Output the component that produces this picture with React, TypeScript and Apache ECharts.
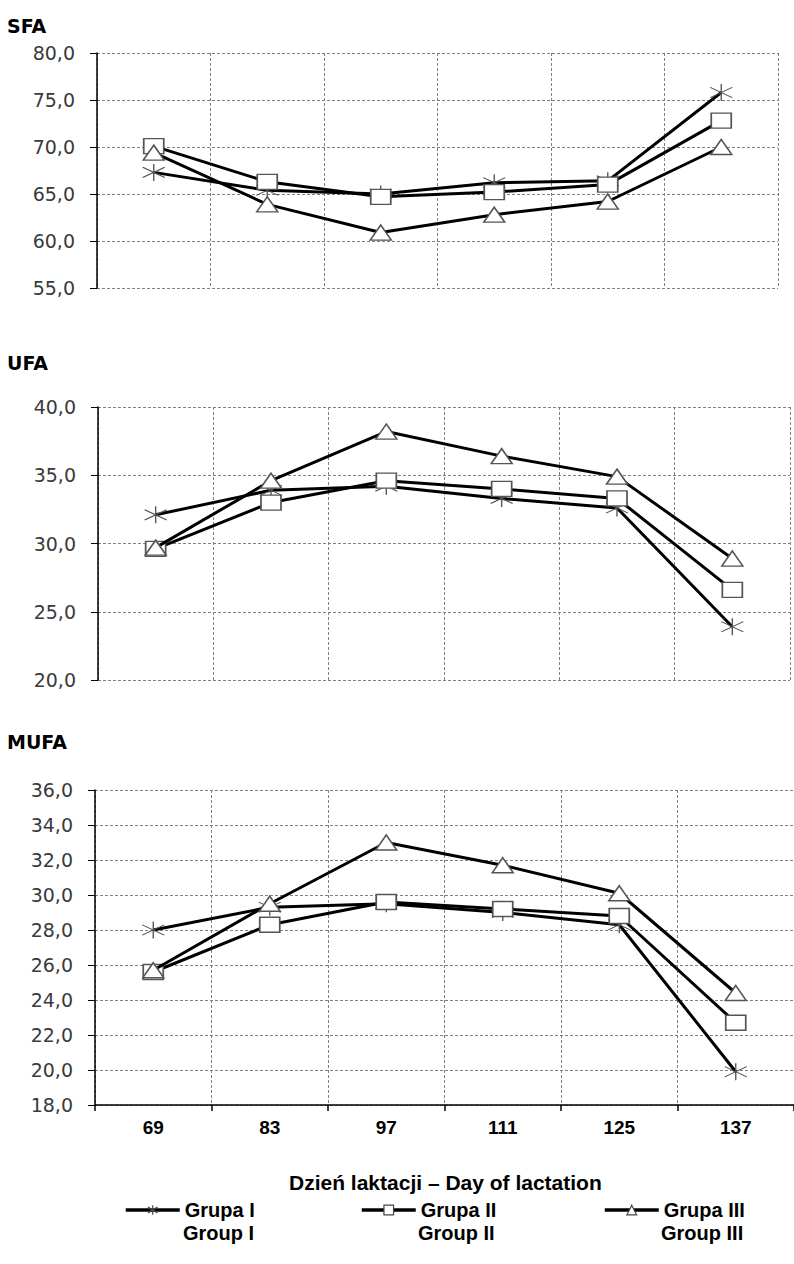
import React, { useEffect, useRef } from "react";
import * as echarts from "echarts";

const categories = ["69", "83", "97", "111", "125", "137"];
const groupNames = ["Grupa I", "Grupa II", "Grupa III"];
const groupNamesEn = ["Group I", "Group II", "Group III"];
const panelTitles = ["SFA", "UFA", "MUFA"];

const sfaGroupI = [67.3, 65.4, 65.0, 66.2, 66.4, 75.8];
const sfaGroupII = [70.1, 66.3, 64.7, 65.2, 66.0, 72.8];
const sfaGroupIII = [69.4, 63.9, 60.9, 62.8, 64.2, 70.0];

const ufaGroupI = [32.1, 33.9, 34.2, 33.3, 32.6, 23.9];
const ufaGroupII = [29.6, 33.0, 34.6, 34.0, 33.3, 26.6];
const ufaGroupIII = [29.7, 34.6, 38.2, 36.4, 34.9, 28.9];

const mufaGroupI = [28.0, 29.3, 29.5, 29.0, 28.3, 19.9];
const mufaGroupII = [25.6, 28.3, 29.6, 29.2, 28.8, 22.7];
const mufaGroupIII = [25.7, 29.5, 33.0, 31.7, 30.1, 24.4];

const yRanges = [
  { min: 55, max: 80, interval: 5 },
  { min: 20, max: 40, interval: 5 },
  { min: 18, max: 36, interval: 2 },
];

const xTitle = "Dzień laktacji – Day of lactation";

const ASTERISK = "path://M10,0L10,20M0,4L20,16M20,4L0,16";
const symbols: any[] = [ASTERISK, "rect", "triangle"];
const symbolSizes: any[] = [[22, 17], [20, 15], [21, 15]];

export default function App() {
  const ref = useRef<HTMLDivElement>(null);
  useEffect(() => {
    if (!ref.current) return;
    const chart = echarts.init(ref.current, null, { renderer: "svg" });
    const panels = [
      [sfaGroupI, sfaGroupII, sfaGroupIII],
      [ufaGroupI, ufaGroupII, ufaGroupIII],
      [mufaGroupI, mufaGroupII, mufaGroupIII],
    ];
    const grids = [
      { left: 97, width: 681, top: 53, height: 235 },
      { left: 98, width: 692, top: 407, height: 273 },
      { left: 95, width: 702, top: 790, height: 315 },
    ];
    const dashed = { color: "#808080", type: [3, 2] as any, width: 1 };
    const fmt = (v: number) => v.toFixed(1).replace(".", ",");

    const xAxis = grids.map((_, i) => ({
      type: "category",
      gridIndex: i,
      data: categories,
      boundaryGap: true,
      axisLine: { show: i === 2, onZero: false, lineStyle: { color: "#000", width: 1.5 } },
      axisTick: { show: i === 2, length: 6, interval: 0, lineStyle: { color: "#000", width: 1.5 } },
      axisLabel: {
        show: i === 2,
        margin: 13,
        interval: 0,
        color: "#000",
        fontWeight: "bold",
        fontSize: 19,
        fontFamily: "Liberation Sans, Arial, sans-serif",
      },
      splitLine: { show: true, interval: 0, lineStyle: dashed },
    }));

    const yAxis = yRanges.map((r, i) => ({
      type: "value",
      gridIndex: i,
      min: r.min,
      max: r.max,
      interval: r.interval,
      axisLine: { show: true, lineStyle: { color: "#000", width: 1.5 } },
      axisTick: { show: true, length: 7, lineStyle: { color: "#000", width: 1 } },
      axisLabel: {
        margin: 22,
        color: "#3a3a3a",
        fontSize: 19,
        fontFamily: "DejaVu Sans, Verdana, sans-serif",
        formatter: fmt,
      },
      splitLine: { show: true, lineStyle: dashed },
    }));

    const series: any[] = [];
    panels.forEach((groups, p) => {
      groups.forEach((vals, g) => {
        series.push({
          type: "line",
          name: groupNames[g],
          xAxisIndex: p,
          yAxisIndex: p,
          data: vals,
          symbol: symbols[g],
          symbolSize: symbolSizes[g],
          showAllSymbol: true,
          lineStyle: { color: "#000", width: 3 },
          itemStyle: { color: "#fff", borderColor: "#555", borderWidth: g === 0 ? 1.2 : 1.5 },
          z: 2 + g,
        });
      });
    });

    const legendLefts = [124, 360, 603];
    const legend = groupNames.map((n, i) => ({
      data: [n],
      left: legendLefts[i],
      top: 1200,
      padding: 0,
      itemWidth: 54,
      itemHeight: 12,
      itemGap: 4,
      lineStyle: { color: "#000", width: 3.5 },
      itemStyle: { color: "#fff", borderColor: "#444", borderWidth: 1.2 },
      textStyle: {
        color: "#000",
        fontWeight: "bold",
        fontSize: 20,
        fontFamily: "Liberation Sans, Arial, sans-serif",
      },
      selectedMode: false,
    }));

    const textLefts = [183, 418, 661];
    const graphic: any[] = [
      {
        type: "text",
        left: 289,
        top: 1172,
        style: {
          text: xTitle,
          fill: "#000",
          font: "bold 21px 'Liberation Sans', Arial, sans-serif",
        },
      },
      ...groupNamesEn.map((t, i) => ({
        type: "text",
        left: textLefts[i],
        top: 1223,
        style: {
          text: t,
          fill: "#000",
          font: "bold 20px 'Liberation Sans', Arial, sans-serif",
        },
      })),
    ];

    const titleTops = [16, 353, 732];
    const title = panelTitles.map((t, i) => ({
      text: t,
      left: 7,
      top: titleTops[i],
      padding: 0,
      textStyle: {
        color: "#000",
        fontWeight: "bold",
        fontSize: 19,
        fontFamily: "DejaVu Sans, Verdana, sans-serif",
      },
    }));

    chart.setOption({
      animation: false,
      backgroundColor: "#fff",
      title,
      legend,
      grid: grids,
      xAxis,
      yAxis,
      series,
      graphic,
    });
    return () => chart.dispose();
  }, []);
  return (
    <div
      ref={ref}
      style={{ position: "absolute", left: 0, top: 0, width: 794, height: 1264 }}
    />
  );
}
